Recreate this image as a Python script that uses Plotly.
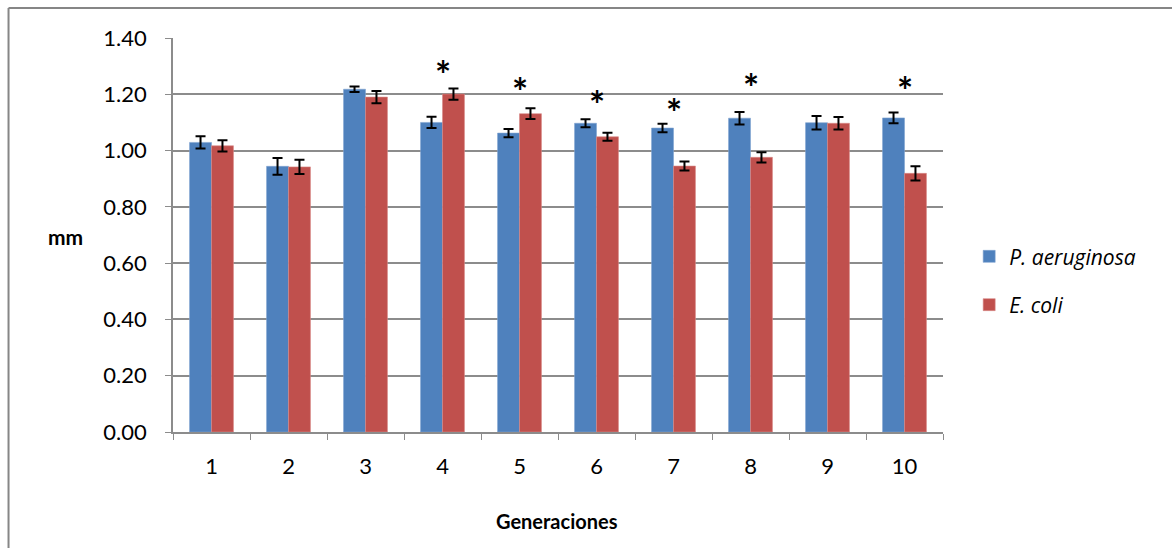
import plotly.graph_objects as go

# Generation numbers on the x axis
generaciones = ["1", "2", "3", "4", "5", "6", "7", "8", "9", "10"]

# Mean size (mm) per generation
p_aeruginosa = [1.029, 0.944, 1.218, 1.100, 1.062, 1.097, 1.080, 1.115, 1.099, 1.116]
e_coli = [1.017, 0.942, 1.190, 1.201, 1.131, 1.049, 0.945, 0.976, 1.097, 0.919]

# Standard error of each mean
p_aeruginosa_err = [0.022, 0.030, 0.010, 0.020, 0.015, 0.014, 0.015, 0.022, 0.024, 0.019]
e_coli_err = [0.020, 0.025, 0.022, 0.020, 0.019, 0.014, 0.016, 0.018, 0.022, 0.025]

# Generations with a significant difference, and the height of their marker
sig_gen = ["4", "5", "6", "7", "8", "10"]
sig_y = [1.297, 1.237, 1.190, 1.162, 1.251, 1.240]

y_ticks = [0.0, 0.2, 0.4, 0.6, 0.8, 1.0, 1.2, 1.4]

FONT = "Lato"
GRID = "#8c8c8c"

fig = go.Figure()
fig.add_trace(go.Bar(
    x=generaciones, y=p_aeruginosa, name="<i>P. aeruginosa</i>",
    marker=dict(color="#4F81BD", line=dict(color="#7FA3D0", width=0.6)),
    error_y=dict(type="data", array=p_aeruginosa_err, color="black", thickness=2, width=5),
    legendgroup="a",
))
fig.add_trace(go.Bar(
    x=generaciones, y=e_coli, name="<i>E. coli</i>",
    marker=dict(color="#C0504D", line=dict(color="#D98A88", width=0.6)),
    error_y=dict(type="data", array=e_coli_err, color="black", thickness=2, width=5),
    legendgroup="b",
))

# Significance markers, placed by category index on the category axis
annotations = [
    dict(x=generaciones.index(g), y=v, xref="x", yref="y", text="<b>*</b>", showarrow=False,
         font=dict(family=FONT, size=38, color="black"), yanchor="middle", yshift=-7)
    for g, v in zip(sig_gen, sig_y)
]
annotations.append(dict(x=-0.139, y=0.497, xref="paper", yref="paper", text="<b>mm</b>",
                        xanchor="center", yanchor="middle", showarrow=False,
                        font=dict(family=FONT, size=21, color="black")))
annotations.append(dict(x=0.499, y=-0.225, xref="paper", yref="paper", text="<b>Generaciones</b>",
                        xanchor="center", yanchor="middle", showarrow=False,
                        font=dict(family=FONT, size=20, color="black")))

# Outer chart border (left and top edges visible)
shapes = [
    dict(type="line", xref="paper", yref="paper", x0=-0.2136, x1=-0.2136, y0=-0.5, y1=1.0761,
         line=dict(color="#868686", width=2)),
    dict(type="line", xref="paper", yref="paper", x0=-0.2136, x1=1.4, y0=1.0761, y1=1.0761,
         line=dict(color="#868686", width=2)),
]

fig.update_layout(
    width=1172, height=548,
    margin=dict(l=173, r=229, t=38, b=116),
    paper_bgcolor="white", plot_bgcolor="white",
    barmode="group", bargap=0.43, bargroupgap=0,
    font=dict(family=FONT, size=22, color="black"),
    showlegend=True,
    legend=dict(x=1.034, y=0.384, xanchor="left", yanchor="middle",
                font=dict(family="Open Sans", size=21), traceorder="grouped",
                tracegroupgap=18, itemwidth=30, bgcolor="rgba(0,0,0,0)"),
    annotations=annotations,
    shapes=shapes,
    xaxis=dict(
        type="category", tickson="boundaries", ticks="outside", ticklen=6, tickcolor=GRID,
        showline=True, linecolor=GRID, linewidth=1.5, showgrid=False,
        range=[-0.5, len(generaciones) - 0.5],
        ticklabelstandoff=14, tickfont=dict(size=22),
    ),
    yaxis=dict(
        range=[0, 1.4], tickvals=y_ticks, tickformat=".2f", ticks="outside", ticklen=6,
        tickcolor=GRID, showline=True, linecolor=GRID, linewidth=1.5,
        showgrid=True, gridcolor=GRID, gridwidth=1.5, zeroline=False,
        ticklabelstandoff=14, tickfont=dict(size=22),
    ),
)

fig.write_html("out.html")
